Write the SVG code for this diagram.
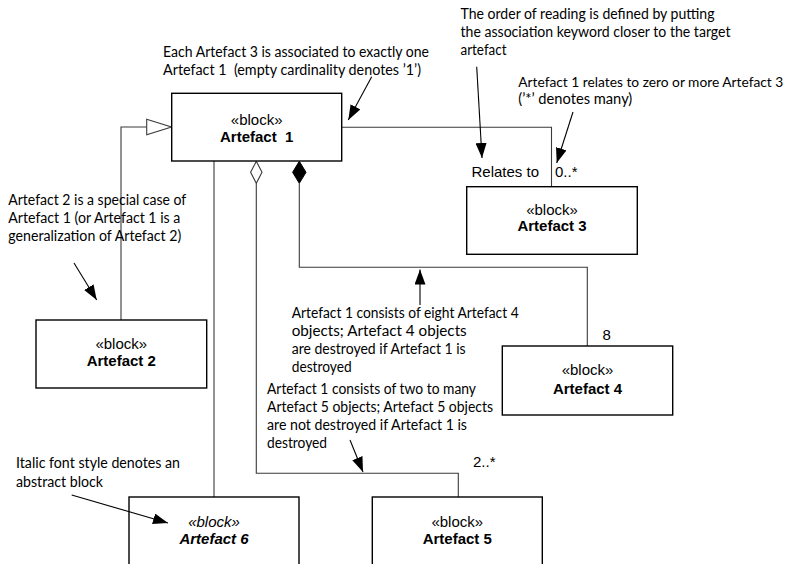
<svg xmlns="http://www.w3.org/2000/svg" width="792" height="564" viewBox="0 0 792 564">
  <style>
    .box { fill: #ffffff; stroke: #000000; stroke-width: 1.4; }
    .conn { fill: none; stroke: #3a3a3a; stroke-width: 1.1; }
    .note-arrow { fill: none; stroke: #000000; stroke-width: 1.1; }
    .stereo { font-family: "Liberation Sans", Arial, sans-serif; font-size: 15px; fill: #000; text-anchor: middle; }
    .name { font-family: "Liberation Sans", Arial, sans-serif; font-size: 15px; font-weight: bold; fill: #000; text-anchor: middle; }
    .abstract { font-style: italic; }
    .label { font-family: "Liberation Sans", Arial, sans-serif; font-size: 15px; fill: #000; }
    .note { font-family: Lato, "Liberation Sans", sans-serif; font-size: 14.5px; fill: #000; }
    .note.tight { font-size: 13.4px; }
  </style>
  <defs>
    <marker id="head" markerUnits="userSpaceOnUse" markerWidth="15" markerHeight="11" refX="15" refY="5.5" orient="auto">
      <path d="M0,0 L15,5.5 L0,11 z" fill="#000000"/>
    </marker>
  </defs>

  <rect width="792" height="564" fill="#ffffff"/>

  <!-- connectors between blocks -->
  <g id="connectors">
    <!-- generalization Artefact 2 -> Artefact 1 -->
    <polyline class="conn" points="121,320 121,127 146.7,127"/>
    <polygon points="146.7,119.3 171.5,127 146.7,134.7" fill="#ffffff" stroke="#3a3a3a" stroke-width="1.1"/>
    <!-- association Artefact 1 - Artefact 3 -->
    <polyline class="conn" points="342,127.3 551.5,127.3 551.5,186.7"/>
    <!-- plain link Artefact 1 - Artefact 6 -->
    <line class="conn" x1="214" y1="161" x2="214" y2="497"/>
    <!-- aggregation Artefact 1 <> Artefact 5 -->
    <polygon points="256.3,161.3 262,172.3 256.3,183.3 250.6,172.3" fill="#ffffff" stroke="#3a3a3a" stroke-width="1.1"/>
    <polyline class="conn" points="256.3,183.3 256.3,473.3 458.3,473.3 458.3,497"/>
    <!-- composition Artefact 1 <*> Artefact 4 -->
    <polygon points="299.3,161.3 306,172.3 299.3,183.3 292.6,172.3" fill="#000000" stroke="#000000" stroke-width="1"/>
    <polyline class="conn" points="299.3,183.3 299.3,267.3 587.3,267.3 587.3,346"/>
    <!-- association end labels -->
    <text class="label" x="471.5" y="177">Relates to</text>
    <text class="label" x="555" y="177">0..*</text>
    <text class="label" x="602.5" y="340">8</text>
    <text class="label" x="473" y="466.5">2..*</text>
  </g>

  <!-- blocks -->
  <g id="artefact1">
    <rect class="box" x="171.7" y="93.3" width="170" height="67.7"/>
    <text class="stereo" x="256.7" y="125">«block»</text>
    <text class="name" x="256.7" y="141.7" xml:space="preserve">Artefact  1</text>
  </g>
  <g id="artefact2">
    <rect class="box" x="36" y="320" width="170.7" height="68"/>
    <text class="stereo" x="121.3" y="349.3">«block»</text>
    <text class="name" x="121.3" y="365.5">Artefact 2</text>
  </g>
  <g id="artefact3">
    <rect class="box" x="466.7" y="186.7" width="170.6" height="67.6"/>
    <text class="stereo" x="552" y="215">«block»</text>
    <text class="name" x="552" y="231">Artefact 3</text>
  </g>
  <g id="artefact4">
    <rect class="box" x="502.3" y="346" width="170.4" height="69"/>
    <text class="stereo" x="587.5" y="375">«block»</text>
    <text class="name" x="587.5" y="394">Artefact 4</text>
  </g>
  <g id="artefact5">
    <rect class="box" x="372.3" y="497" width="170" height="80"/>
    <text class="stereo" x="457.3" y="527.3">«block»</text>
    <text class="name" x="457.3" y="544">Artefact 5</text>
  </g>
  <g id="artefact6">
    <rect class="box" x="129" y="497" width="170" height="80"/>
    <text class="stereo abstract" x="214" y="527.3">«block»</text>
    <text class="name abstract" x="214" y="544">Artefact 6</text>
  </g>

  <!-- explanatory notes -->
  <g id="note-multiplicity-one">
    <text class="note" x="163" y="57" textLength="266" lengthAdjust="spacingAndGlyphs">Each Artefact 3 is associated to exactly one</text>
    <text class="note" x="163" y="74.5" textLength="258" lengthAdjust="spacingAndGlyphs" xml:space="preserve">Artefact 1  (empty cardinality denotes ’1’)</text>
    <line class="note-arrow" x1="371.7" y1="76.7" x2="348.3" y2="120" marker-end="url(#head)"/>
  </g>
  <g id="note-reading-order">
    <text class="note" x="460.5" y="19" textLength="254" lengthAdjust="spacingAndGlyphs">The order of reading is defined by putting</text>
    <text class="note" x="460.5" y="37" textLength="270" lengthAdjust="spacingAndGlyphs">the association keyword closer to the target</text>
    <text class="note" x="460.5" y="55" textLength="46" lengthAdjust="spacingAndGlyphs">artefact</text>
    <line class="note-arrow" x1="476.7" y1="66.7" x2="482" y2="158" marker-end="url(#head)"/>
  </g>
  <g id="note-many">
    <text class="note tight" x="518.3" y="86.5" textLength="265" lengthAdjust="spacingAndGlyphs">Artefact 1 relates to zero or more Artefact 3</text>
    <text class="note" x="518.3" y="103.5" textLength="114" lengthAdjust="spacingAndGlyphs">(’*’ denotes many)</text>
    <line class="note-arrow" x1="573" y1="112" x2="556.7" y2="163" marker-end="url(#head)"/>
  </g>
  <g id="note-generalization">
    <text class="note" x="8.3" y="205" textLength="178" lengthAdjust="spacingAndGlyphs">Artefact 2 is a special case of</text>
    <text class="note" x="8.3" y="223" textLength="172" lengthAdjust="spacingAndGlyphs">Artefact 1 (or Artefact 1 is a</text>
    <text class="note" x="8.3" y="241" textLength="173" lengthAdjust="spacingAndGlyphs">generalization of Artefact 2)</text>
    <line class="note-arrow" x1="74" y1="263" x2="96.7" y2="300" marker-end="url(#head)"/>
  </g>
  <g id="note-composition">
    <text class="note" x="291.7" y="317.5" textLength="227" lengthAdjust="spacingAndGlyphs">Artefact 1 consists of eight Artefact 4</text>
    <text class="note" x="291.7" y="335.5" textLength="175" lengthAdjust="spacingAndGlyphs">objects; Artefact 4 objects</text>
    <text class="note" x="291.7" y="353.5" textLength="174" lengthAdjust="spacingAndGlyphs">are destroyed if Artefact 1 is</text>
    <text class="note" x="291.7" y="371.5" textLength="60" lengthAdjust="spacingAndGlyphs">destroyed</text>
    <line class="note-arrow" x1="420" y1="305" x2="420" y2="269.5" marker-end="url(#head)"/>
  </g>
  <g id="note-aggregation">
    <text class="note" x="267" y="393.5" textLength="209" lengthAdjust="spacingAndGlyphs">Artefact 1 consists of two to many</text>
    <text class="note" x="267" y="411.5" textLength="226" lengthAdjust="spacingAndGlyphs">Artefact 5 objects; Artefact 5 objects</text>
    <text class="note" x="267" y="429.5" textLength="200" lengthAdjust="spacingAndGlyphs">are not destroyed if Artefact 1 is</text>
    <text class="note" x="267" y="447.5" textLength="60" lengthAdjust="spacingAndGlyphs">destroyed</text>
    <line class="note-arrow" x1="350" y1="440" x2="363" y2="472" marker-end="url(#head)"/>
  </g>
  <g id="note-abstract">
    <text class="note" x="16" y="468" textLength="164" lengthAdjust="spacingAndGlyphs">Italic font style denotes an</text>
    <text class="note" x="16" y="486.5" textLength="87" lengthAdjust="spacingAndGlyphs">abstract block</text>
    <line class="note-arrow" x1="71.7" y1="495" x2="168" y2="523" marker-end="url(#head)"/>
  </g>
</svg>
